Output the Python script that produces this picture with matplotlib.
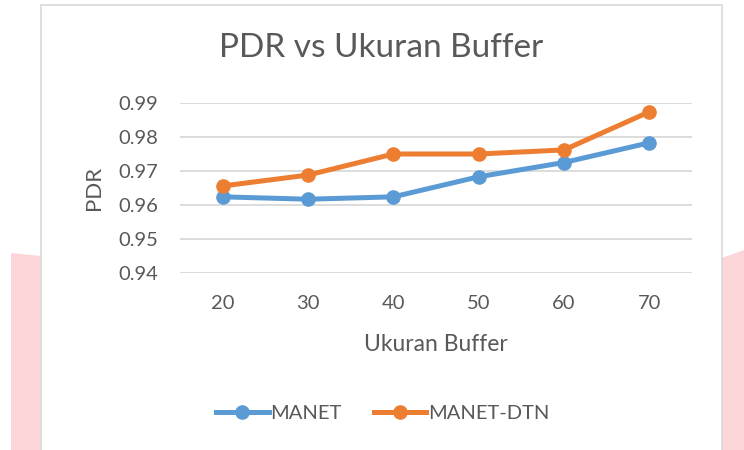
import matplotlib.pyplot as plt
from matplotlib.patches import Polygon, Rectangle

# data
buffer_sizes = ['20', '30', '40', '50', '60', '70']
pdr_manet = [0.9624, 0.9617, 0.9624, 0.9683, 0.9725, 0.9783]
pdr_manet_dtn = [0.9656, 0.9688, 0.9750, 0.9750, 0.9762, 0.9874]
yticks = [0.94, 0.95, 0.96, 0.97, 0.98, 0.99]

plt.rcParams['font.family'] = ['Lato', 'DejaVu Sans']
txt = '#595959'

W, H = 744, 450
fig = plt.figure(figsize=(W / 100, H / 100), dpi=100)

def fx(px):
    return px / W

def fy(py):
    return 1 - py / H

# pink background pieces peeking out at the sides
pink = '#FCD5D8'
fig.patches.append(Polygon([(fx(11), fy(253)), (fx(41), fy(256)), (fx(41), fy(450)), (fx(11), fy(450))],
                           closed=True, transform=fig.transFigure, facecolor=pink, edgecolor='none', zorder=-3))
fig.patches.append(Polygon([(fx(722), fy(258)), (fx(744), fy(250)), (fx(744), fy(450)), (fx(722), fy(450))],
                           closed=True, transform=fig.transFigure, facecolor=pink, edgecolor='none', zorder=-3))
# chart frame
fig.patches.append(Rectangle((fx(41), fy(460)), fx(722) - fx(41), fy(5) - fy(460),
                             transform=fig.transFigure, facecolor='white', edgecolor='#D9D9D9',
                             linewidth=1.2, zorder=-2))

ax = fig.add_axes([fx(180), fy(273), fx(692) - fx(180), fy(103) - fy(273)])
ax.set_facecolor('none')
x = range(len(buffer_sizes))
ax.plot(x, pdr_manet, color='#5B9BD5', lw=3.6, marker='o', ms=9.5, label='MANET', clip_on=False, zorder=3)
ax.plot(x, pdr_manet_dtn, color='#ED7D31', lw=3.6, marker='o', ms=9.5, label='MANET-DTN', clip_on=False, zorder=3)

ax.set_xlim(-0.5, len(buffer_sizes) - 0.5)
ax.set_ylim(0.94, 0.99)
ax.set_yticks(yticks)
ax.set_yticklabels(['%.2f' % v for v in yticks])
ax.set_xticks(list(x))
ax.set_xticklabels(buffer_sizes)
ax.grid(axis='y', color='#D9D9D9', lw=1.3)
ax.set_axisbelow(True)
for s in ax.spines.values():
    s.set_visible(False)
ax.tick_params(length=0, labelsize=14.5, colors=txt)
ax.tick_params(axis='y', pad=16)
ax.tick_params(axis='x', pad=16)

ax.set_xlabel('Ukuran Buffer', fontsize=16.5, color=txt, labelpad=16)
ax.set_ylabel('PDR', fontsize=16, color=txt, labelpad=10)
fig.text(fx(381), fy(48), 'PDR vs Ukuran Buffer', fontsize=24, color=txt, ha='center', va='center')

fig.legend(loc='center', bbox_to_anchor=(fx(383), fy(413)), ncol=2, frameon=False,
           fontsize=14.5, labelcolor=txt, handlelength=2.6, handletextpad=0.1, columnspacing=1.6)

fig.savefig('out.png', dpi=100)
